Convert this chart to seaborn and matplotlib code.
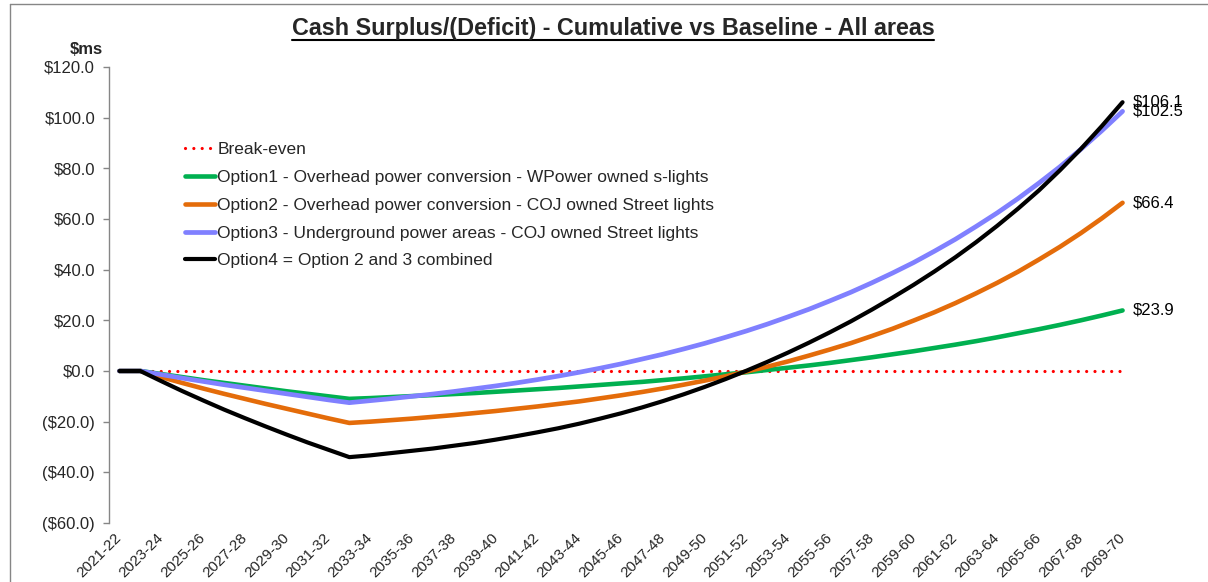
import matplotlib
matplotlib.use("Agg")
import matplotlib.pyplot as plt
import seaborn as sns
import pandas as pd
from matplotlib.ticker import FuncFormatter, MultipleLocator
from matplotlib.lines import Line2D

sns.set_style("white")
plt.rcParams['font.family'] = ['Liberation Sans', 'DejaVu Sans']

categories = ["2021-22", "2022-23", "2023-24", "2024-25", "2025-26", "2026-27", "2027-28",
              "2028-29", "2029-30", "2030-31", "2031-32", "2032-33", "2033-34", "2034-35",
              "2035-36", "2036-37", "2037-38", "2038-39", "2039-40", "2040-41", "2041-42",
              "2042-43", "2043-44", "2044-45", "2045-46", "2046-47", "2047-48", "2048-49",
              "2049-50", "2050-51", "2051-52", "2052-53", "2053-54", "2054-55", "2055-56",
              "2056-57", "2057-58", "2058-59", "2059-60", "2060-61", "2061-62", "2062-63",
              "2063-64", "2064-65", "2065-66", "2066-67", "2067-68", "2068-69", "2069-70"]

break_even = [0.0] * len(categories)

option1 = [0.0, 0.0, -1.2, -2.4, -3.6, -4.7, -5.8, -6.9, -8.0, -9.0, -10.0, -11.0,
           -10.7, -10.3, -9.9, -9.5, -9.1, -8.7, -8.2, -7.7, -7.2, -6.7, -6.1, -5.5,
           -4.9, -4.3, -3.6, -2.9, -2.1, -1.3, -0.5, 0.4, 1.3, 2.2, 3.2, 4.3, 5.4, 6.6,
           7.8, 9.1, 10.4, 11.8, 13.3, 14.9, 16.5, 18.2, 20.0, 21.9, 23.9]
option2 = [0.0, 0.0, -2.4, -4.7, -6.9, -9.0, -11.0, -13.0, -14.9, -16.8, -18.7, -20.5,
           -20.0, -19.4, -18.8, -18.1, -17.4, -16.6, -15.8, -14.9, -14.0, -13.0, -12.0,
           -10.8, -9.6, -8.3, -6.9, -5.4, -3.8, -2.1, -0.2, 1.7, 3.8, 6.1, 8.5, 11.0,
           13.8, 16.7, 19.9, 23.2, 26.8, 30.7, 34.8, 39.2, 44.0, 49.0, 54.4, 60.2, 66.4]
option3 = [0.0, 0.0, -1.4, -2.8, -4.1, -5.4, -6.6, -7.8, -9.0, -10.2, -11.4, -12.5,
           -11.7, -10.9, -10.0, -9.1, -8.1, -7.0, -5.9, -4.7, -3.4, -2.0, -0.5, 1.1, 2.8,
           4.7, 6.6, 8.7, 10.9, 13.3, 15.8, 18.5, 21.4, 24.4, 27.7, 31.1, 34.8, 38.7,
           42.8, 47.3, 52.0, 57.1, 62.4, 68.1, 74.2, 80.6, 87.5, 94.8, 102.5]
option4 = [0.0, 0.0, -4.0, -7.9, -11.6, -15.2, -18.6, -21.9, -25.1, -28.2, -31.1, -34.0,
           -33.3, -32.4, -31.5, -30.6, -29.5, -28.4, -27.1, -25.7, -24.2, -22.6, -20.8,
           -18.8, -16.7, -14.4, -11.9, -9.2, -6.3, -3.2, 0.1, 3.6, 7.3, 11.2, 15.3, 19.6,
           24.2, 29.0, 34.0, 39.3, 44.9, 50.9, 57.3, 64.1, 71.3, 79.2, 87.6, 96.6, 106.1]

series_names = ["Break-even",
                "Option1 - Overhead power conversion - WPower owned s-lights",
                "Option2 - Overhead power conversion - COJ owned Street lights",
                "Option3 - Underground power areas - COJ owned Street lights",
                "Option4 = Option 2 and 3 combined"]

W, H = 1208, 582
fig = plt.figure(figsize=(W / 100, H / 100), dpi=100)
ax = fig.add_axes([109 / W, 1 - 523 / H, (1133 - 109) / W, (523 - 67) / H])

df = pd.DataFrame({"idx": list(range(len(categories))),
                   "be": break_even, "o1": option1, "o2": option2,
                   "o3": option3, "o4": option4})

sns.lineplot(data=df, x="idx", y="be", ax=ax, color="#FF0000", linewidth=2.3,
             linestyle=(0, (0.01, 2.6)), dash_capstyle="round", label=series_names[0])
cols = ["#00B050", "#E46C0A", "#8080FF", "#000000"]
keys = ["o1", "o2", "o3", "o4"]
lws = [3.3, 3.3, 3.4, 3.0]
for k, c, n, lw in zip(keys, cols, series_names[1:], lws):
    sns.lineplot(data=df, x="idx", y=k, ax=ax, color=c, linewidth=lw,
                 label=n, solid_capstyle="round")

ax.set_xlim(-0.5, len(categories) - 0.5)
ax.set_ylim(-60, 120)
ax.yaxis.set_major_locator(MultipleLocator(20))


def money(v, pos=None):
    if v < 0:
        return "(${:.1f})".format(-v)
    return "${:.1f}".format(v)


ax.yaxis.set_major_formatter(FuncFormatter(money))
ax.set_xticks(list(range(0, len(categories), 2)))
ax.set_xticklabels(categories[::2], rotation=45, ha="right", va="center",
                   rotation_mode="anchor", fontsize=11)
ax.tick_params(axis="x", length=0, pad=9)
ax.tick_params(axis="y", length=4, width=1, color="#868686", direction="out",
               labelsize=12, pad=6, left=True)
ax.set_xlabel("")
ax.set_ylabel("")
for s in ["top", "right", "bottom"]:
    ax.spines[s].set_visible(False)
ax.spines["left"].set_color("#868686")
ax.spines["left"].set_linewidth(1)
ax.grid(False)

# end-value labels
for vals in [option1, option2, option3, option4]:
    ax.annotate(money(vals[-1]), xy=(len(categories) - 1, vals[-1]),
                xytext=(7, 0), textcoords="offset points", ha="left", va="center",
                fontsize=12, color="black")

leg = ax.legend(loc="upper left", bbox_to_anchor=(185 / W, 1 - 142 / H),
                bbox_transform=fig.transFigure, frameon=False, fontsize=12.5,
                handlelength=1.72, handletextpad=0.15, labelspacing=0.73,
                borderpad=0, borderaxespad=0)

title = fig.text(613 / W, 1 - 28 / H,
                 "Cash Surplus/(Deficit) - Cumulative vs Baseline - All areas",
                 ha="center", va="center", fontsize=16.8, fontweight="bold")
fig.text(86 / W, 1 - 50 / H, "$ms", ha="center", va="center", fontsize=12,
         fontweight="bold")

# chart-area frame (right and bottom edges outside the picture)
fig.add_artist(Line2D([10 / W, 10 / W], [0, 1 - 4 / H], transform=fig.transFigure,
                      color="#868686", linewidth=1))
fig.add_artist(Line2D([10 / W, 1], [1 - 4 / H, 1 - 4 / H], transform=fig.transFigure,
                      color="#868686", linewidth=1))

fig.canvas.draw()
bb = title.get_window_extent(fig.canvas.get_renderer())
uy = (bb.y0 - 0.5) / H
fig.add_artist(Line2D([bb.x0 / W, bb.x1 / W], [uy, uy], transform=fig.transFigure,
                      color="black", linewidth=1.5))

fig.savefig("out.png", dpi=100)
